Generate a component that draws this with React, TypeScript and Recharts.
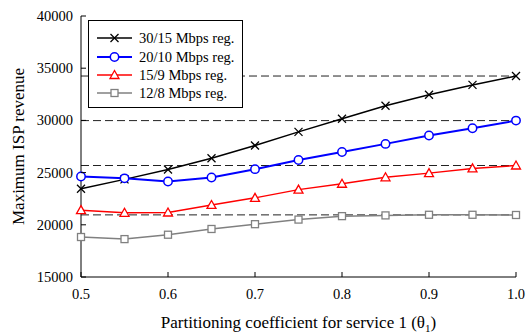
import React from 'react';
import {
  LineChart,
  Line,
  XAxis,
  YAxis,
  ReferenceLine,
} from 'recharts';

const THETA = [0.5, 0.55, 0.6, 0.65, 0.7, 0.75, 0.8, 0.85, 0.9, 0.95, 1.0];
const REG_30_15 = [23450, 24350, 25300, 26380, 27600, 28900, 30150, 31400, 32450, 33400, 34250];
const REG_20_10 = [24620, 24450, 24150, 24530, 25330, 26200, 26980, 27750, 28550, 29250, 29980];
const REG_15_9 = [21400, 21150, 21180, 21900, 22580, 23370, 23930, 24550, 24950, 25400, 25680];
const REG_12_8 = [18830, 18630, 19050, 19600, 20060, 20500, 20830, 20900, 20960, 20960, 20940];

// dashed levels (the saturated revenue of each regime)
const LEVELS = [34250, 29980, 25680, 20950];

const X_TICKS = [0.5, 0.6, 0.7, 0.8, 0.9, 1.0];
const Y_TICKS = [15000, 20000, 25000, 30000, 35000, 40000];

const FONT = '"Liberation Serif", "Times New Roman", serif';

type Shape = 'x' | 'circle' | 'triangle' | 'square';

const SERIES: { key: string; name: string; color: string; width: number; shape: Shape }[] = [
  { key: 'r30', name: '30/15 Mbps reg.', color: '#000000', width: 1.5, shape: 'x' },
  { key: 'r20', name: '20/10 Mbps reg.', color: '#0000ff', width: 2, shape: 'circle' },
  { key: 'r15', name: '15/9 Mbps reg.', color: '#ff0000', width: 1.5, shape: 'triangle' },
  { key: 'r12', name: '12/8 Mbps reg.', color: '#808080', width: 1.5, shape: 'square' },
];

const data = THETA.map((t, i) => ({
  theta: t,
  r30: REG_30_15[i],
  r20: REG_20_10[i],
  r15: REG_15_9[i],
  r12: REG_12_8[i],
}));

function Marker({ cx, cy, shape, color }: { cx: number; cy: number; shape: Shape; color: string }) {
  if (shape === 'x') {
    return (
      <g stroke={color} strokeWidth={1.3}>
        <line x1={cx - 4} y1={cy - 4} x2={cx + 4} y2={cy + 4} />
        <line x1={cx - 4} y1={cy + 4} x2={cx + 4} y2={cy - 4} />
      </g>
    );
  }
  if (shape === 'circle') {
    return <circle cx={cx} cy={cy} r={4.2} fill="#fff" stroke={color} strokeWidth={1.5} />;
  }
  if (shape === 'triangle') {
    return (
      <polygon
        points={`${cx},${cy - 4.5} ${cx + 4.5},${cy + 3.5} ${cx - 4.5},${cy + 3.5}`}
        fill="#fff"
        stroke={color}
        strokeWidth={1.3}
      />
    );
  }
  return <rect x={cx - 3.5} y={cy - 3.5} width={7} height={7} fill="#fff" stroke={color} strokeWidth={1.3} />;
}

const YTick = (props: any) => {
  const { x, y, payload, label } = props;
  const inward = label ? 5 : -5;
  return (
    <g>
      <line x1={x} y1={y} x2={x + inward} y2={y} stroke="#000" />
      {label && (
        <text x={x - 8} y={y} dy="0.35em" textAnchor="end" fontSize={14.5} fontFamily={FONT} fill="#000">
          {payload.value}
        </text>
      )}
    </g>
  );
};

const XTick = (props: any) => {
  const { x, y, payload, label } = props;
  const inward = label ? -5 : 5;
  return (
    <g>
      <line x1={x} y1={y} x2={x} y2={y + inward} stroke="#000" />
      {label && (
        <text x={x} y={y + 17} dy="0.35em" textAnchor="middle" fontSize={14.5} fontFamily={FONT} fill="#000">
          {Number(payload.value).toFixed(1)}
        </text>
      )}
    </g>
  );
};

const YLabel = (props: any) => {
  const { x, y, height } = props.viewBox;
  const cx = x + 18;
  const cy = y + height / 2;
  return (
    <text
      x={cx}
      y={cy}
      transform={`rotate(-90 ${cx} ${cy})`}
      textAnchor="middle"
      dy="0.35em"
      fontSize={17}
      fontFamily={FONT}
      fill="#000"
    >
      Maximum ISP revenue
    </text>
  );
};

const XLabel = (props: any) => {
  const { x, y, width } = props.viewBox;
  return (
    <text x={x + width / 2} y={y + 45} dy="0.35em" textAnchor="middle" fontSize={17} fontFamily={FONT} fill="#000">
      Partitioning coefficient for service 1 (θ
      <tspan fontSize={11} dy="4">1</tspan>
      <tspan dy="-4">)</tspan>
    </text>
  );
};

function LegendBox() {
  return (
    <div
      style={{
        position: 'absolute',
        left: 88,
        top: 20,
        width: 155,
        height: 88,
        border: '1px solid #000',
        background: '#fff',
        fontFamily: FONT,
        fontSize: 14.5,
        paddingTop: 8,
        boxSizing: 'border-box',
      }}
    >
      {SERIES.map((s) => (
        <div key={s.key} style={{ display: 'flex', alignItems: 'center', height: 18.4 }}>
          <svg width={43} height={14} style={{ marginLeft: 7, flex: 'none' }}>
            <line x1={1} y1={7} x2={36} y2={7} stroke={s.color} strokeWidth={s.width} />
            <Marker cx={18.5} cy={7} shape={s.shape} color={s.color} />
          </svg>
          <span style={{ whiteSpace: 'nowrap', lineHeight: '18px' }}>{s.name}</span>
        </div>
      ))}
    </div>
  );
}

export default function App() {
  return (
    <div style={{ position: 'absolute', left: 0, top: 0, width: 528, height: 335, background: '#fff' }}>
      <LineChart width={528} height={335} data={data} margin={{ top: 16, right: 12, bottom: 0, left: 0 }}>
        <XAxis
          dataKey="theta"
          type="number"
          domain={[0.5, 1.0]}
          ticks={X_TICKS}
          height={58}
          stroke="#000"
          tickLine={false}
          tickSize={0}
          tickMargin={0}
          tick={(p: any) => <XTick {...p} label />}
          label={<XLabel />}
        />
        <XAxis
          xAxisId="top"
          orientation="top"
          dataKey="theta"
          type="number"
          domain={[0.5, 1.0]}
          ticks={X_TICKS}
          height={0}
          stroke="#000"
          tickLine={false}
          tickSize={0}
          tickMargin={0}
          tick={(p: any) => <XTick {...p} />}
        />
        <YAxis
          domain={[15000, 40000]}
          ticks={Y_TICKS}
          width={81}
          stroke="#000"
          tickLine={false}
          tickSize={0}
          tickMargin={0}
          tick={(p: any) => <YTick {...p} label />}
          label={<YLabel />}
        />
        <YAxis
          yAxisId="right"
          orientation="right"
          domain={[15000, 40000]}
          ticks={Y_TICKS}
          width={0}
          stroke="#000"
          tickLine={false}
          tickSize={0}
          tickMargin={0}
          tick={(p: any) => <YTick {...p} />}
        />
        {LEVELS.map((v) => (
          <ReferenceLine key={v} y={v} stroke="#222" strokeDasharray="8 4" strokeWidth={1} />
        ))}
        {SERIES.map((s) => (
          <Line
            key={s.key}
            dataKey={s.key}
            name={s.name}
            stroke={s.color}
            strokeWidth={s.width}
            isAnimationActive={false}
            dot={(p: any) => <Marker key={`${s.key}-${p.index}`} cx={p.cx} cy={p.cy} shape={s.shape} color={s.color} />}
          />
        ))}
      </LineChart>
      <LegendBox />
    </div>
  );
}
